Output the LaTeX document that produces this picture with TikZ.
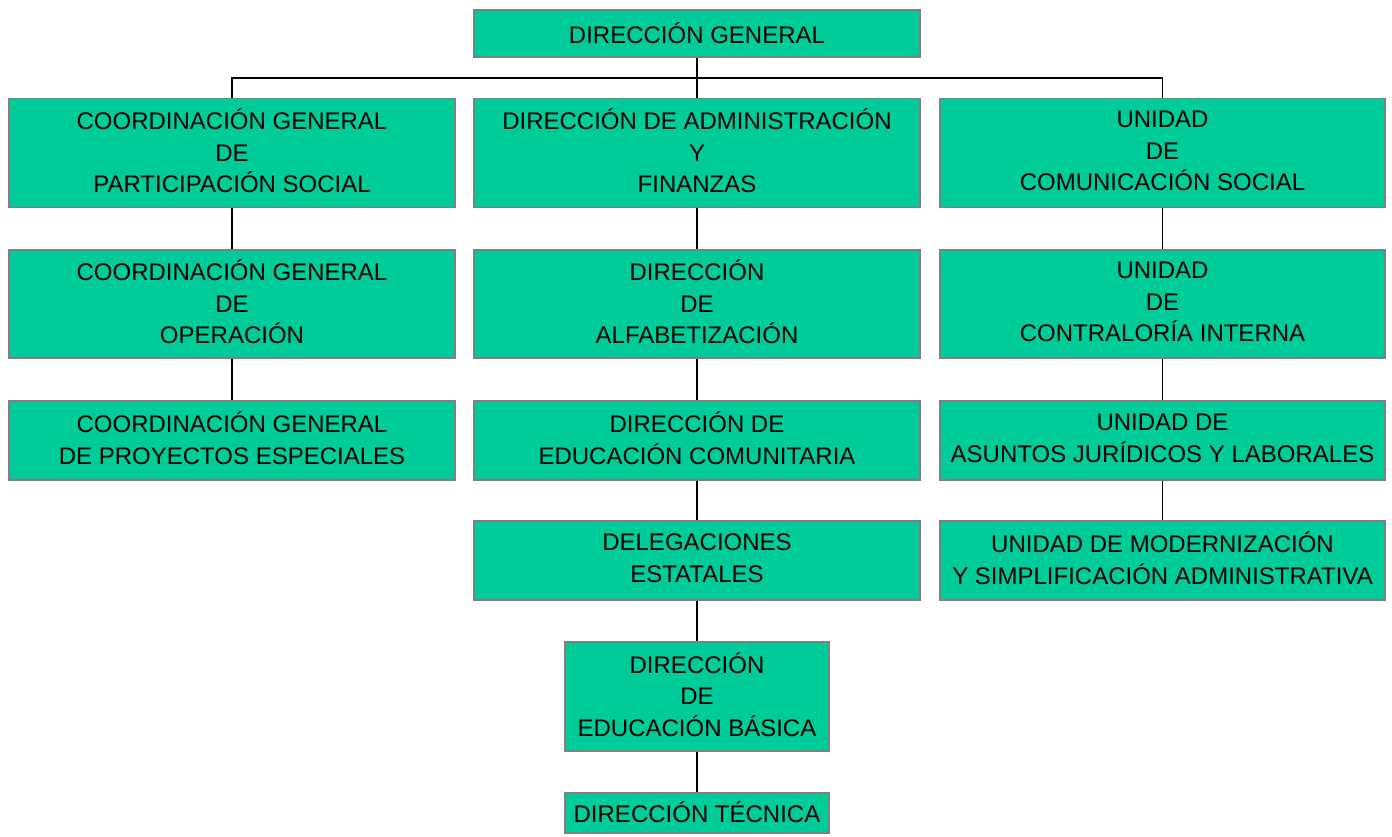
\documentclass[tikz,border=0pt]{standalone}
\usepackage{fontspec}
\setmainfont{Liberation Sans}
\definecolor{boxfill}{RGB}{0,204,153}
\definecolor{boxline}{RGB}{128,128,128}
\begin{document}
\begin{tikzpicture}[x=1pt,y=-1pt,
  orgbox/.style={draw=boxline, line width=1.2pt, fill=boxfill, align=center, inner sep=0pt,
    font=\fontsize{24}{31.7}\selectfont,
    execute at begin node={\rule{0pt}{24pt}},
    execute at end node={\rule[-4.4pt]{0pt}{4.4pt}}},
  wide/.style={minimum width=446pt},
  tall/.style={minimum height=109pt},
  short/.style={minimum height=79pt},
  link/.style={draw=black, line width=1.3pt}]
\useasboundingbox (0,0) rectangle (1392,836);
% top
\node[orgbox, minimum width=446pt, minimum height=47pt] (top) at (697,33.5) {DIRECCIÓN GENERAL};
% column 1
\node[orgbox, wide, tall] (a1) at (232,153) {COORDINACIÓN GENERAL\\DE\\PARTICIPACIÓN SOCIAL};
\node[orgbox, wide, minimum height=108pt] (a2) at (232,304) {COORDINACIÓN GENERAL\\DE\\OPERACIÓN};
\node[orgbox, wide, short] (a3) at (232,440.5) {COORDINACIÓN GENERAL\\DE PROYECTOS ESPECIALES};
% column 2
\node[orgbox, wide, tall] (b1) at (697,153) {DIRECCIÓN DE ADMINISTRACIÓN\\Y\\FINANZAS};
\node[orgbox, wide, minimum height=108pt] (b2) at (697,304) {DIRECCIÓN\\DE\\ALFABETIZACIÓN};
\node[orgbox, wide, short] (b3) at (697,440.5) {DIRECCIÓN DE\\EDUCACIÓN COMUNITARIA};
\node[orgbox, wide, short] (b4) at (697,560.5) {DELEGACIONES\\ESTATALES};
\node[orgbox, minimum width=264pt, tall] (b5) at (697,696.5) {DIRECCIÓN\\DE\\EDUCACIÓN BÁSICA};
\node[orgbox, minimum width=264pt, minimum height=40pt] (b6) at (697,813) {DIRECCIÓN TÉCNICA};
% column 3
\node[orgbox, minimum width=445pt, tall] (c1) at (1162.5,153) {UNIDAD\\DE\\COMUNICACIÓN SOCIAL};
\node[orgbox, minimum width=445pt, minimum height=108pt] (c2) at (1162.5,304) {UNIDAD\\DE\\CONTRALORÍA INTERNA};
\node[orgbox, minimum width=445pt, short] (c3) at (1162.5,440.5) {UNIDAD DE\\ASUNTOS JURÍDICOS Y LABORALES};
\node[orgbox, minimum width=445pt, short] (c4) at (1162.5,560.5) {UNIDAD DE MODERNIZACIÓN\\Y SIMPLIFICACIÓN ADMINISTRATIVA};
% connectors
\coordinate (bus) at (697,78);
\draw[link] (top.south) -- (bus);
\draw[link] (a1.north) |- (bus) -| (c1.north);
\draw[link] (bus) -- (b1.north);
\draw[link] (a1) -- (a2);
\draw[link] (a2) -- (a3);
\draw[link] (b1) -- (b2);
\draw[link] (b2) -- (b3);
\draw[link] (b3) -- (b4);
\draw[link] (b4) -- (b5);
\draw[link] (b5) -- (b6);
\draw[link] (c1) -- (c2);
\draw[link] (c2) -- (c3);
\draw[link] (c3) -- (c4);
\end{tikzpicture}
\end{document}
